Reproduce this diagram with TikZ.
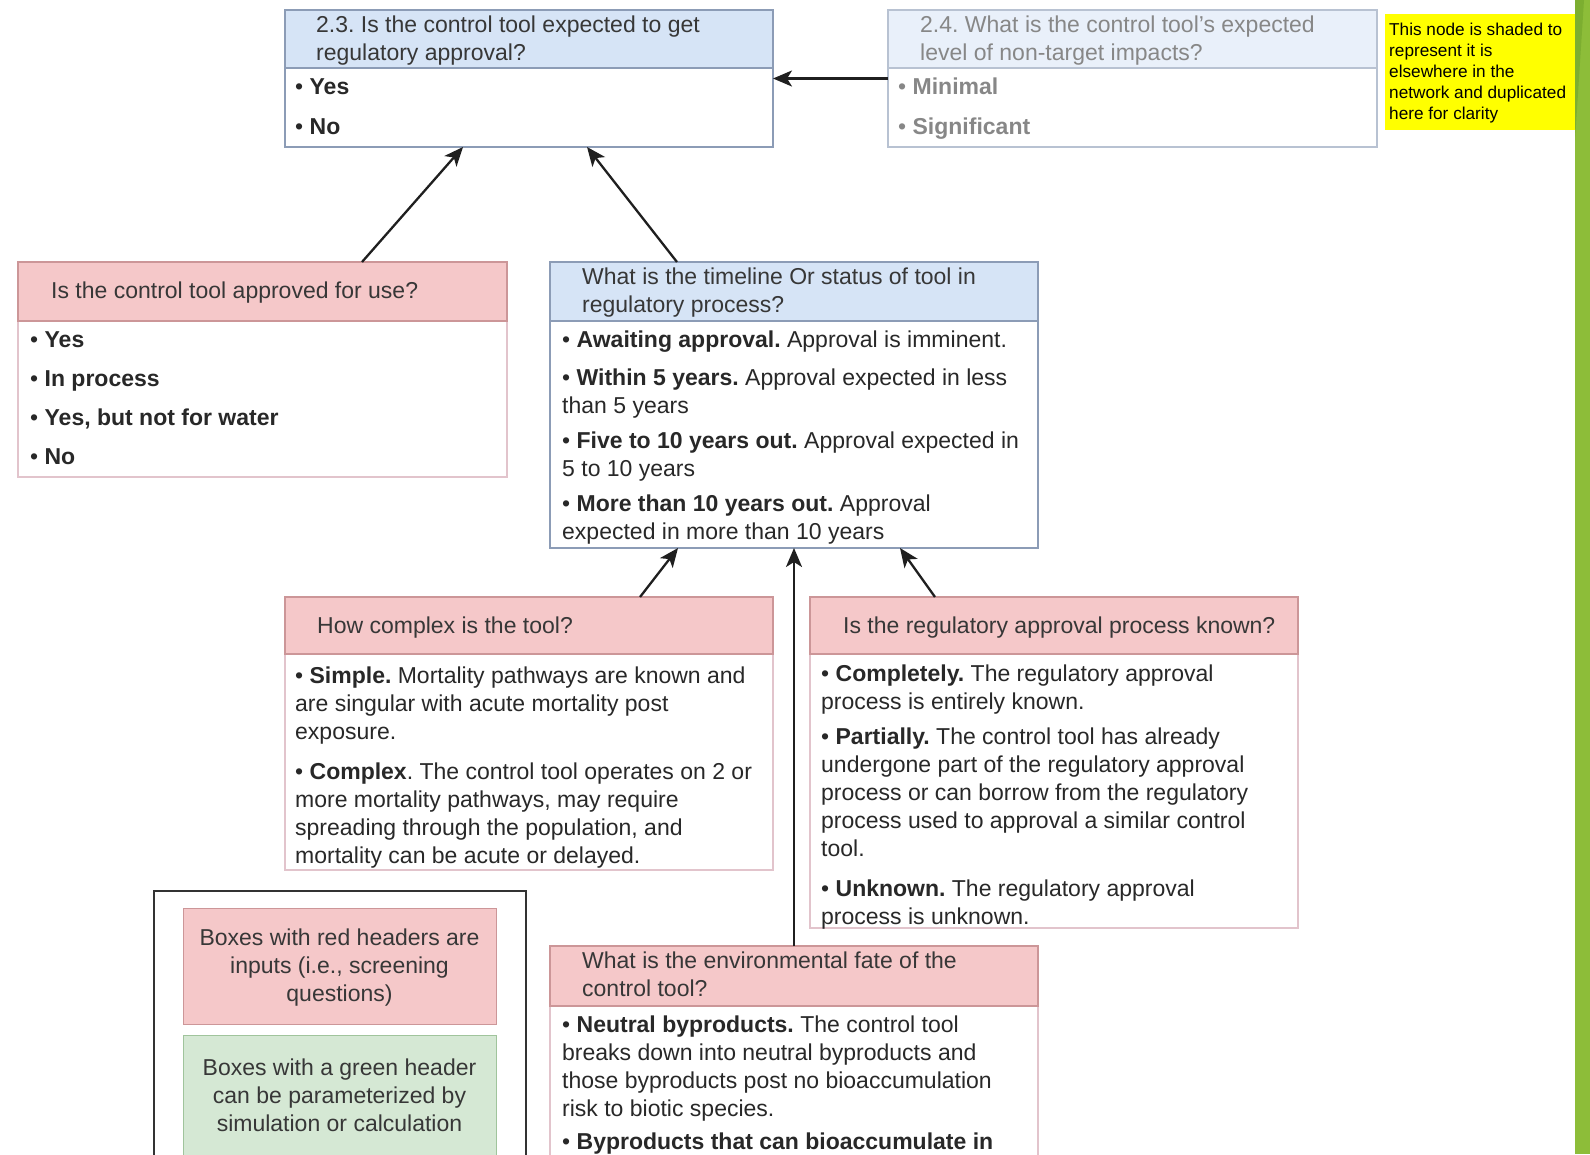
\documentclass[tikz,border=0pt]{standalone}
\usepackage{fontspec}
\setmainfont{Liberation Sans}
\usetikzlibrary{arrows.meta,calc}

\definecolor{hdrblue}{RGB}{214,228,246}
\definecolor{lineblue}{RGB}{140,156,182}
\definecolor{hdrpale}{RGB}{233,240,250}
\definecolor{linepale}{RGB}{184,194,210}
\definecolor{hdrpink}{RGB}{245,200,201}
\definecolor{linepink}{RGB}{204,150,152}
\definecolor{bodypink}{RGB}{226,196,204}
\definecolor{legendgreen}{RGB}{213,232,212}
\definecolor{linegreen}{RGB}{160,196,156}
\definecolor{inktext}{RGB}{40,40,40}
\definecolor{headtext}{RGB}{55,55,55}
\definecolor{greytext}{RGB}{135,135,135}
\definecolor{notey}{RGB}{255,255,0}
\definecolor{stripgreen}{RGB}{141,189,57}
\definecolor{stripdark}{RGB}{124,174,48}

\newcommand\boxfont{\fontsize{23}{28}\selectfont}
\newcommand\notefont{\fontsize{17.2}{21}\selectfont}
\frenchspacing

\begin{document}
\begin{tikzpicture}[x=1pt,y=-1pt,
  boxframe/.style={draw=#1, fill=white, line width=1.3pt, anchor=north west,
    inner sep=0pt, outer sep=0pt},
  boxhead/.style 2 args={draw=#2, fill=#1, line width=1.3pt, anchor=north west,
    inner sep=0pt, outer sep=0pt},
  txt/.style={anchor=north west, inner sep=0pt, align=left, font=\boxfont, text=inktext},
  htxt/.style={txt, text=headtext},
  ctxt/.style={anchor=north, inner sep=0pt, align=center, font=\boxfont, text=headtext},
  arr/.style={line width=2.3pt, draw=black!88,
    -{Stealth[length=19pt,width=16pt,inset=5pt]}}]

\useasboundingbox (0,0) rectangle (1590,1154);
\clip (0,0) rectangle (1590,1154);
\fill[white] (0,0) rectangle (1590,1154);

% slide edge
\fill[stripgreen] (1575,0) rectangle (1590,1154);
\fill[stripdark] (1575,0) -- (1584,0) -- (1575,140) -- cycle;

% 2.3 regulatory approval
\node[boxframe=lineblue, minimum width=488pt, minimum height=137pt] (q23) at (285,10) {};
\node[boxhead={hdrblue}{lineblue}, minimum width=488pt, minimum height=58pt] (q23h) at (285,10) {};
\node[htxt] (q23t) at (316,12.9) {\strut 2.3. Is the control tool expected to get\\regulatory approval?};
\node[txt] (q23a) at (295,74.6) {\strut • \textbf{Yes}};
\node[txt] (q23b) at (295,114.6) {\strut • \textbf{No}};

% 2.4 non-target impacts (duplicated node)
\node[boxframe=linepale, minimum width=489pt, minimum height=137pt] (q24) at (888,10) {};
\node[boxhead={hdrpale}{linepale}, minimum width=489pt, minimum height=58pt] (q24h) at (888,10) {};
\node[txt, text=greytext] (q24t) at (920,12.9) {\strut 2.4. What is the control tool's expected\\level of non-target impacts?};
\node[txt, text=greytext] (q24a) at (898,74.6) {\strut • \textbf{Minimal}};
\node[txt, text=greytext] (q24b) at (898,114.6) {\strut • \textbf{Significant}};

% note
\node[fill=notey, anchor=north west, inner sep=0pt, minimum width=190pt, minimum height=116pt] (note) at (1385,14) {};
\node[anchor=north west, inner sep=0pt, align=left, font=\notefont, text=black] (notet) at (1389,20.6)
  {\strut This node is shaded to\\represent it is\\elsewhere in the\\network and duplicated\\here for clarity};

% approved for use
\node[boxframe=bodypink, minimum width=489pt, minimum height=215pt] (appr) at (18,262) {};
\node[boxhead={hdrpink}{linepink}, minimum width=489pt, minimum height=59pt] (apprh) at (18,262) {};
\node[htxt] (apprt) at (51,278.6) {\strut Is the control tool approved for use?};
\node[txt] (appra) at (30,327.6) {\strut • \textbf{Yes}};
\node[txt] (apprb) at (30,366.6) {\strut • \textbf{In process}};
\node[txt] (apprc) at (30,405.6) {\strut • \textbf{Yes, but not for water}};
\node[txt] (apprd) at (30,444.6) {\strut • \textbf{No}};

% timeline
\node[boxframe=lineblue, minimum width=488pt, minimum height=286pt] (tl) at (550,262) {};
\node[boxhead={hdrblue}{lineblue}, minimum width=488pt, minimum height=59pt] (tlh) at (550,262) {};
\node[htxt] (tlt) at (582,264.6) {\strut What is the timeline Or status of tool in\\regulatory process?};
\node[txt] (tla) at (562,327.6) {\strut • \textbf{Awaiting approval.} Approval is imminent.};
\node[txt] (tlb) at (562,365.6) {\strut • \textbf{Within 5 years.} Approval expected in less\\than 5 years};
\node[txt] (tlc) at (562,428.6) {\strut • \textbf{Five to 10 years out.} Approval expected in\\5 to 10 years};
\node[txt] (tld) at (562,491.6) {\strut • \textbf{More than 10 years out.} Approval\\expected in more than 10 years};

% complexity
\node[boxframe=bodypink, minimum width=488pt, minimum height=273pt] (cpx) at (285,597) {};
\node[boxhead={hdrpink}{linepink}, minimum width=488pt, minimum height=57pt] (cpxh) at (285,597) {};
\node[htxt] (cpxt) at (317,613.6) {\strut How complex is the tool?};
\node[txt] (cpxa) at (295,663.6) {\strut • \textbf{Simple.} Mortality pathways are known and\\are singular with acute mortality post\\exposure.};
\node[txt] (cpxb) at (295,759.6) {\strut • \textbf{Complex}. The control tool operates on 2 or\\more mortality pathways, may require\\spreading through the population, and\\mortality can be acute or delayed.};

% regulatory process known
\node[boxframe=bodypink, minimum width=488pt, minimum height=331pt] (reg) at (810,597) {};
\node[boxhead={hdrpink}{linepink}, minimum width=488pt, minimum height=57pt] (regh) at (810,597) {};
\node[htxt] (regt) at (843,613.6) {\strut Is the regulatory approval process known?};
\node[txt] (rega) at (821,661.6) {\strut • \textbf{Completely.} The regulatory approval\\process is entirely known.};
\node[txt] (regb) at (821,724.6) {\strut • \textbf{Partially.} The control tool has already\\undergone part of the regulatory approval\\process or can borrow from the regulatory\\process used to approval a similar control\\tool.};
\node[txt] (regc) at (821,876.6) {\strut • \textbf{Unknown.} The regulatory approval\\process is unknown.};

% environmental fate
\node[boxframe=bodypink, minimum width=488pt, minimum height=230pt] (env) at (550,946) {};
\node[boxhead={hdrpink}{linepink}, minimum width=488pt, minimum height=60pt] (envh) at (550,946) {};
\node[htxt] (envt) at (582,948.6) {\strut What is the environmental fate of the\\control tool?};
\node[txt] (enva) at (562,1012.6) {\strut • \textbf{Neutral byproducts.} The control tool\\breaks down into neutral byproducts and\\those byproducts post no bioaccumulation\\risk to biotic species.};
\node[txt] (envb) at (562,1129.6) {\strut • \textbf{Byproducts that can bioaccumulate in}};

% legend
\node[draw=black!80, line width=1.8pt, anchor=north west, inner sep=0pt, minimum width=372pt, minimum height=290pt] (legend) at (153,890) {};
\node[draw=linepink, fill=hdrpink, line width=1.3pt, anchor=north west, inner sep=0pt, minimum width=313pt, minimum height=116pt] (legr) at (183,908) {};
\node[ctxt] (legrt) at (339.5,925.6) {\strut Boxes with red headers are\\inputs (i.e., screening\\questions)};
\node[draw=linegreen, fill=legendgreen, line width=1.3pt, anchor=north west, inner sep=0pt, minimum width=313pt, minimum height=130pt] (legg) at (183,1035) {};
\node[ctxt] (leggt) at (339.5,1055.6) {\strut Boxes with a green header\\can be parameterized by\\simulation or calculation};

% connectors
\draw[arr] ($(appr.north west)!0.7035!(appr.north east)$) -- ($(q23.south west)!0.3648!(q23.south east)$);
\draw[arr] ($(tl.north west)!0.2602!(tl.north east)$) -- ($(q23.south west)!0.6189!(q23.south east)$);
\draw[arr] (q24.west) -- (q23.east);
\draw[arr] ($(cpx.north west)!0.7275!(cpx.north east)$) -- ($(tl.south west)!0.2623!(tl.south east)$);
\draw[arr] ($(reg.north west)!0.2561!(reg.north east)$) -- ($(tl.south west)!0.7172!(tl.south east)$);
\draw[arr] (env.north) -- (tl.south);

\end{tikzpicture}
\end{document}
